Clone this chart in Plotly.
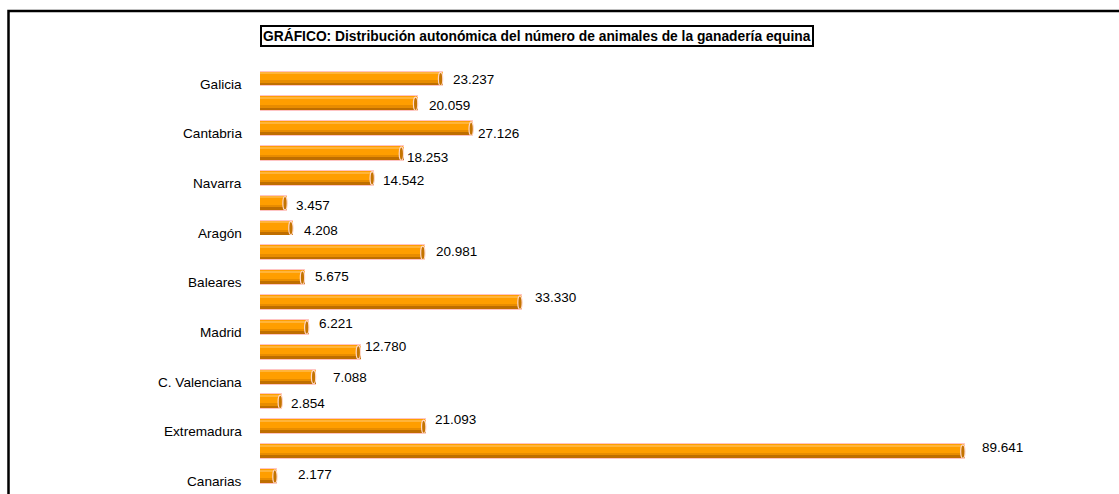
import plotly.graph_objects as go

# ---- data ----
regiones = ["Galicia", "P. de Asturias", "Cantabria", "País Vasco", "Navarra", "La Rioja",
            "Aragón", "Cataluña", "Baleares", "Castilla y León", "Madrid", "Castilla-La Mancha",
            "C. Valenciana", "R. de Murcia", "Extremadura", "Andalucía", "Canarias"]
animales = [23237, 20059, 27126, 18253, 14542, 3457, 4208, 20981, 5675, 33330,
            6221, 12780, 7088, 2854, 21093, 89641, 2177]
etiquetas = ["23.237", "20.059", "27.126", "18.253", "14.542", "3.457", "4.208", "20.981",
             "5.675", "33.330", "6.221", "12.780", "7.088", "2.854", "21.093", "89.641", "2.177"]
titulo = "GRÁFICO: Distribución autonómica del número de animales de la ganadería equina"

# hand-placed label nudges (pixels): horizontal gap, vertical shift (down positive)
label_gap = [10, 11, 5, 3, 9, 8.5, 11, 11, 10, 13, 10, 4.5, 17, 9, 9, 17, 21]
label_dy = [0, 2, 5, 3.5, 2.6, 2, 2, -1, -1.7, -4.6, -4, -5.6, 0, 2, -7, -4.4, -1.5]

W, H = 1119, 494
FONT = "Liberation Sans, Arial, sans-serif"
vals = [v / 1000 for v in animales]
pos = list(range(len(regiones)))

# axis geometry
x_left_px, x_right_px = 260, 1110
px_per_unit = 7.865
xmax = (x_right_px - x_left_px) / px_per_unit
y0_px, step_px = 79, 24.84
y_top = (0 - y0_px) / step_px
y_bot = (H - y0_px) / step_px

fig = go.Figure()

def layer(color, offset, width, line_color=None, line_w=0):
    fig.add_trace(go.Bar(
        x=vals, y=pos, orientation="h", offset=offset, width=width,
        marker=dict(color=color, line=dict(color=line_color or color, width=line_w)),
        hoverinfo="skip", showlegend=False))

layer("#FF9E00", -0.30, 0.60, "#FFC4C4", 1)
layer("#FFB43A", -0.25, 0.06)
layer("#E88C00", 0.06, 0.16)
layer("#BF6E00", 0.15, 0.11)

shapes = []
for p, v in zip(pos, vals):
    shapes.append(dict(type="circle", xref="x", yref="y",
                       x0=v - 0.55, x1=v, y0=p - 0.27, y1=p + 0.27,
                       fillcolor="#C47400", line=dict(color="#FFD8C8", width=1.2)))

# outer frame
shapes.append(dict(type="rect", xref="paper", yref="paper",
                   x0=8.5 / W, x1=1.05, y0=-0.05, y1=1 - 11 / H,
                   line=dict(color="#000000", width=2.5), fillcolor="rgba(0,0,0,0)"))

annotations = []
for p, name in zip(pos, regiones):
    if p % 2 == 0:
        annotations.append(dict(text=name, xref="paper", yref="y", x=244 / W, y=p,
                                xanchor="right", yanchor="middle", yshift=-5,
                                showarrow=False, font=dict(family=FONT, size=13.6, color="#000000")))
for p, v, t, g, d in zip(pos, vals, etiquetas, label_gap, label_dy):
    annotations.append(dict(text=t, xref="x", yref="y", x=v, y=p,
                            xanchor="left", yanchor="middle", xshift=g - 2, yshift=-d,
                            showarrow=False, font=dict(family=FONT, size=13.5, color="#000000")))

annotations.append(dict(text="<b>" + titulo + "</b>", xref="paper", yref="paper",
                        x=260 / W, y=1 - 25 / H, xanchor="left", yanchor="top",
                        showarrow=False, bordercolor="#000000", borderwidth=2, borderpad=1,
                        bgcolor="#FFFFFF", font=dict(family=FONT, size=13.8, color="#000000")))

fig.update_layout(
    width=W, height=H, autosize=False,
    margin=dict(l=0, r=0, t=0, b=0),
    paper_bgcolor="#FFFFFF", plot_bgcolor="#FFFFFF",
    barmode="overlay", bargap=0,
    xaxis=dict(domain=[x_left_px / W, x_right_px / W], range=[0, xmax],
               showgrid=False, zeroline=False, showticklabels=False, showline=False),
    yaxis=dict(domain=[0, 1], range=[y_bot, y_top], showgrid=False, zeroline=False,
               showticklabels=False, showline=False),
    shapes=shapes, annotations=annotations,
    font=dict(family=FONT),
)

fig.write_html("out.html", config={"displayModeBar": False},
               post_script="document.body.style.margin='0';document.body.style.overflow='hidden';")
